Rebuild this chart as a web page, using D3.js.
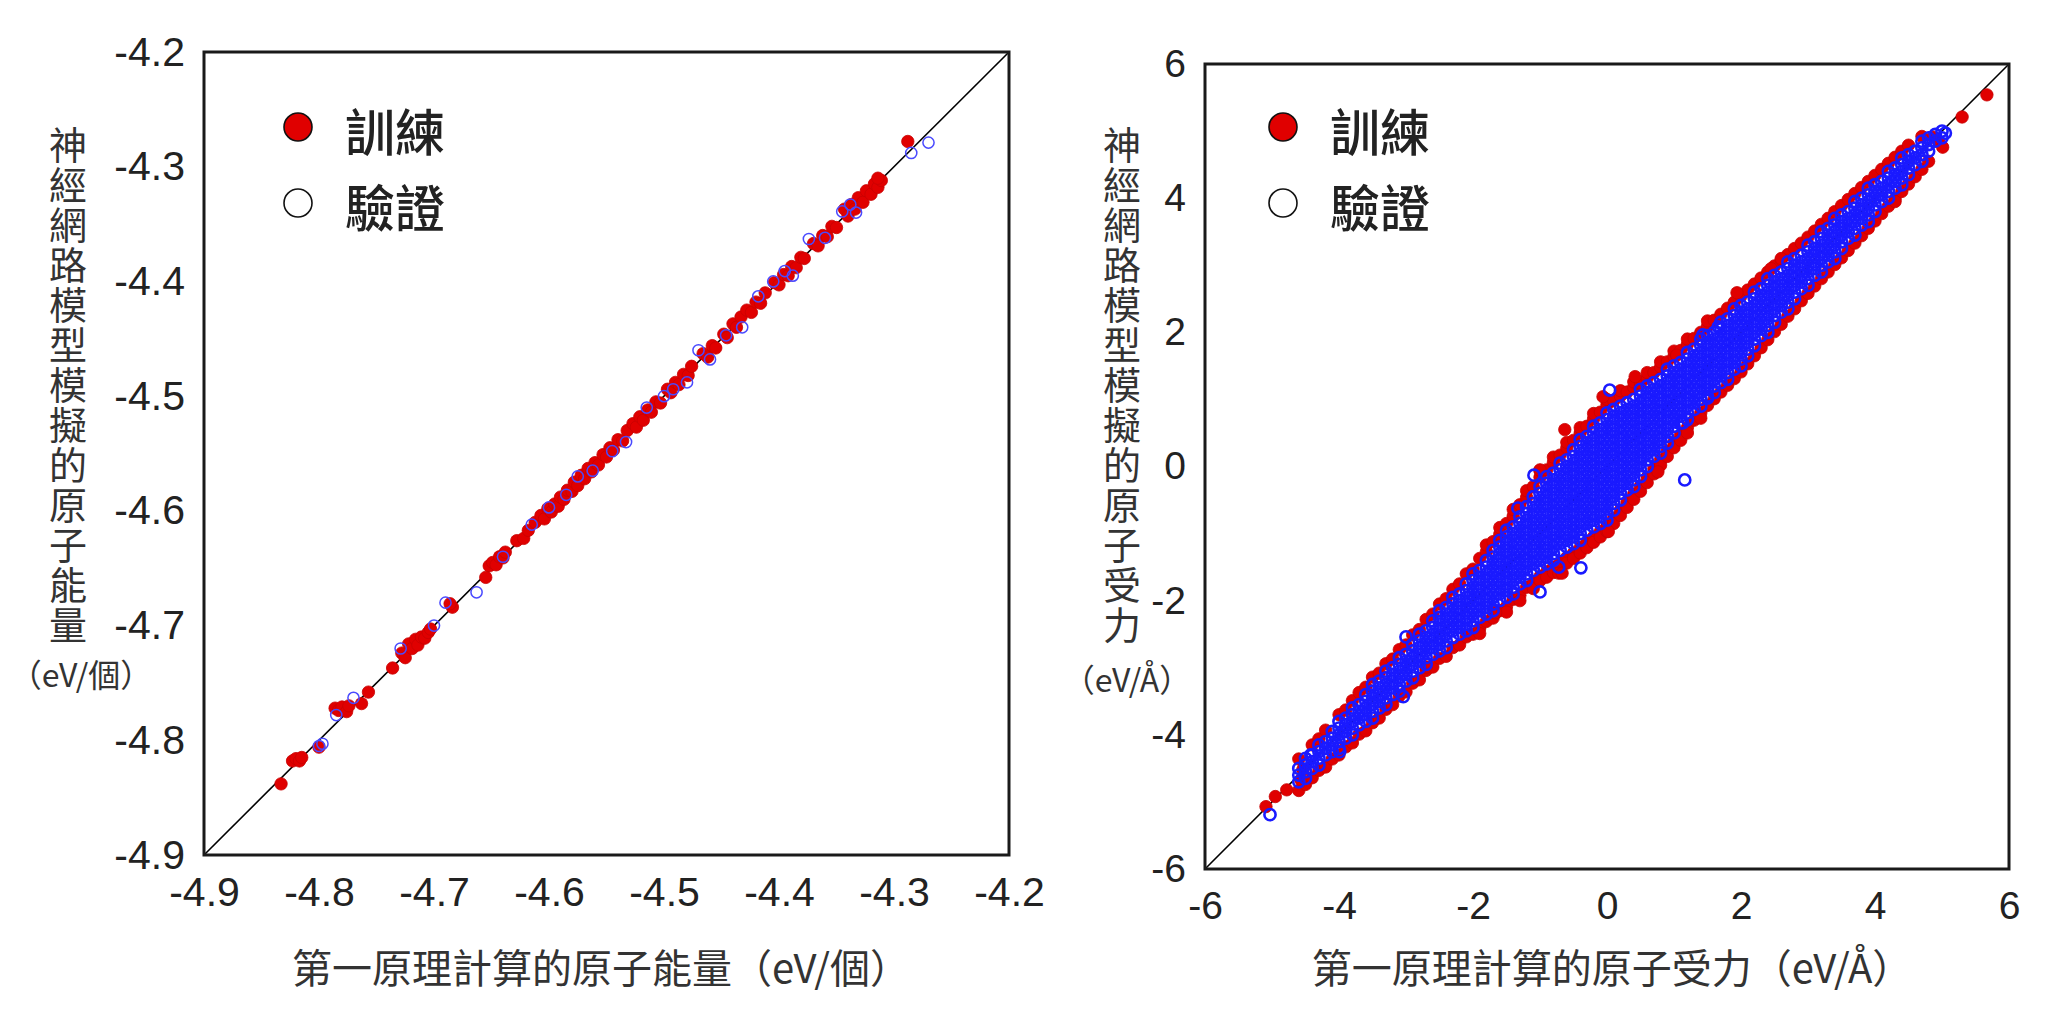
<!DOCTYPE html>
<html>
<head>
<meta charset="utf-8">
<script src="https://cdn.jsdelivr.net/npm/d3@7"></script>
<style>
	body { margin: 0; background: #fff; }
</style>
</head>
<body>
<script>
(function () {
	"use strict";

	let w = 2048;
	let h = 1020;

	// ---- left chart: atomic energy (eV/atom) ----
	const energyTicks = [-4.9, -4.8, -4.7, -4.6, -4.5, -4.4, -4.3, -4.2];
	const energyTickLabels = ['-4.9', '-4.8', '-4.7', '-4.6', '-4.5', '-4.4', '-4.3', '-4.2'];

	// [DFT, NN] pairs
	const energyTrain = [
		[-4.833,-4.838],[-4.823,-4.818],[-4.820,-4.816],[-4.817,-4.818],[-4.815,-4.815],
		[-4.800,-4.806],[-4.786,-4.772],[-4.783,-4.774],[-4.780,-4.771],[-4.776,-4.775],[-4.774,-4.770],
		[-4.763,-4.768],[-4.757,-4.758],[-4.736,-4.737],
		[-4.728,-4.724],[-4.725,-4.728],[-4.722,-4.716],[-4.719,-4.720],[-4.716,-4.712],[-4.714,-4.717],
		[-4.711,-4.710],[-4.708,-4.711],[-4.705,-4.706],[-4.703,-4.703],
		[-4.684,-4.684],[-4.686,-4.681],
		[-4.655,-4.658],[-4.652,-4.648],[-4.649,-4.645],[-4.646,-4.647],[-4.643,-4.640],[-4.640,-4.641],[-4.638,-4.636],
		[-4.628,-4.626],[-4.622,-4.624],[-4.618,-4.617],[-4.612,-4.610],
		[-4.607,-4.604],[-4.604,-4.607],[-4.601,-4.598],[-4.598,-4.601],[-4.595,-4.594],[-4.592,-4.596],
		[-4.590,-4.588],[-4.587,-4.590],[-4.584,-4.582],[-4.580,-4.583],[-4.578,-4.575],[-4.575,-4.578],
		[-4.572,-4.569],[-4.569,-4.572],[-4.566,-4.563],[-4.563,-4.566],[-4.560,-4.558],[-4.557,-4.560],
		[-4.553,-4.551],[-4.550,-4.553],[-4.547,-4.545],[-4.544,-4.547],[-4.540,-4.538],[-4.536,-4.539],[-4.532,-4.530],
		[-4.527,-4.524],[-4.524,-4.527],[-4.521,-4.518],[-4.518,-4.521],[-4.514,-4.512],[-4.511,-4.514],[-4.507,-4.505],[-4.503,-4.506],
		[-4.497,-4.494],[-4.494,-4.497],[-4.490,-4.488],[-4.487,-4.490],[-4.483,-4.481],[-4.479,-4.482],[-4.476,-4.474],
		[-4.466,-4.463],[-4.462,-4.466],[-4.458,-4.456],[-4.455,-4.458],[-4.448,-4.446],[-4.445,-4.449],
		[-4.440,-4.437],[-4.437,-4.440],[-4.433,-4.431],
		[-4.428,-4.425],[-4.424,-4.427],[-4.420,-4.418],[-4.416,-4.419],[-4.412,-4.410],
		[-4.404,-4.401],[-4.400,-4.403],[-4.396,-4.394],[-4.392,-4.395],[-4.389,-4.387],[-4.385,-4.388],[-4.381,-4.379],[-4.378,-4.380],
		[-4.370,-4.367],[-4.366,-4.369],[-4.362,-4.360],[-4.358,-4.361],[-4.354,-4.352],[-4.350,-4.353],
		[-4.343,-4.337],[-4.340,-4.343],[-4.337,-4.333],[-4.334,-4.337],[-4.331,-4.327],[-4.327,-4.331],
		[-4.324,-4.321],[-4.320,-4.324],[-4.317,-4.315],[-4.314,-4.318],[-4.311,-4.312],[-4.314,-4.310],
		[-4.288,-4.278]
	];
	const energyValid = [
		[-4.800,-4.805],[-4.797,-4.803],[-4.785,-4.778],[-4.770,-4.763],[-4.729,-4.720],[-4.700,-4.700],
		[-4.690,-4.680],[-4.663,-4.671],[-4.640,-4.640],[-4.615,-4.612],[-4.600,-4.597],[-4.585,-4.586],
		[-4.575,-4.570],[-4.562,-4.565],[-4.545,-4.548],[-4.533,-4.540],[-4.515,-4.510],[-4.500,-4.500],
		[-4.492,-4.494],[-4.480,-4.488],[-4.470,-4.460],[-4.460,-4.468],[-4.446,-4.447],[-4.432,-4.440],
		[-4.418,-4.413],[-4.405,-4.400],[-4.395,-4.391],[-4.388,-4.395],[-4.374,-4.363],[-4.360,-4.362],
		[-4.345,-4.339],[-4.338,-4.333],[-4.333,-4.340],[-4.285,-4.288],[-4.270,-4.279]
	];

	// ---- right chart: atomic force (eV/Å) ----
	const forceTicks = [-6, -4, -2, 0, 2, 4, 6];
	const forceTickLabels = ['-6', '-4', '-2', '0', '2', '4', '6'];

	// training points: columns [DFT, [NN values]] along the edges of the cloud
	const forceTrainCols = [
		[-4.6,[-4.83,-4.36]],[-4.5,[-4.74]],[-4.4,[-4.64,-4.15]],[-4.3,[-4.53,-4.06]],[-4.2,[-4.48,-3.93]],
		[-4.1,[-4.36]],[-4.0,[-4.30,-3.70]],[-3.9,[-4.18,-3.63]],[-3.8,[-4.12,-3.49]],[-3.7,[-3.99,-3.37]],
		[-3.6,[-3.94,-3.29]],[-3.5,[-3.82,-3.14]],[-3.4,[-3.75,-3.08]],[-3.3,[-3.62,-2.94]],[-3.2,[-3.55,-2.87]],
		[-3.1,[-3.42,-2.73]],[-3.0,[-3.36,-2.66]],[-2.9,[-3.23,-2.51]],[-2.8,[-3.18,-2.43]],[-2.7,[-3.04,-2.99,-2.28]],
		[-2.6,[-2.99,-2.20]],[-2.5,[-2.86,-2.05]],[-2.4,[-2.83,-1.97]],[-2.3,[-2.70,-1.83]],[-2.2,[-2.66,-1.75]],
		[-2.1,[-2.54,-1.60]],[-2.0,[-2.50,-1.53]],[-1.9,[-2.41,-2.49,-1.37]],[-1.8,[-2.31,-1.27,-1.17]],
		[-1.7,[-2.26,-2.18,-1.12]],[-1.6,[-2.15,-1.01,-0.91]],[-1.5,[-2.09,-2.17,-0.85]],[-1.4,[-1.98,-0.74,-0.64]],
		[-1.3,[-1.92,-2.00,-0.57]],[-1.2,[-1.80,-0.46,-0.36]],[-1.1,[-1.74,-1.82,-0.30]],[-1.0,[-1.64,-1.70,-0.16,-0.06]],
		[-0.9,[-1.57,-1.65,-0.05]],[-0.8,[-1.50,-1.58,0.06,0.14]],[-0.7,[-1.43,-1.51,0.17]],[-0.6,[-1.36,-1.44,0.28,0.36]],
		[-0.5,[-1.29,-1.37,0.39]],[-0.4,[-1.21,-1.29,0.50,0.58]],[-0.3,[-1.13,-1.21,0.60]],[-0.2,[-1.05,-1.13,0.71,0.79]],
		[-0.1,[-0.97,-1.05,0.81]],[0.0,[-0.89,-0.97,0.92,1.00]],[0.1,[-0.77,-0.85,0.98]],[0.2,[-0.65,-0.73,1.05,1.13]],
		[0.3,[-0.53,-0.61,1.11]],[0.4,[-0.41,-0.49,1.18,1.26]],[0.5,[-0.29,-0.37,1.24]],[0.6,[-0.16,-0.24,1.32,1.40]],
		[0.7,[-0.03,-0.11,1.40]],[0.8,[0.10,0.02,1.48,1.56]],[0.9,[0.23,0.15,1.56]],[1.0,[0.36,0.28,1.64,1.72]],
		[1.1,[0.47,0.39,1.73]],[1.2,[0.58,0.50,1.82,1.90]],[1.3,[0.69,1.91]],[1.4,[0.80,0.72,2.00]],
		[1.5,[0.91,2.09,2.17]],[1.6,[1.01,2.18]],[1.7,[1.11,2.27]],[1.8,[1.21,2.36]],[1.9,[1.31,2.45]],
		[2.0,[1.41,2.54]],[2.1,[1.53,2.63]],[2.2,[1.65,2.72]],[2.3,[1.77,2.81]],[2.4,[1.89,2.90]],
		[2.5,[2.01,2.99]],[2.6,[2.12,3.08]],[2.7,[2.24,3.16]],[2.8,[2.35,3.25]],[2.9,[2.47,3.33]],
		[3.0,[2.58,3.42]],[3.1,[2.69,3.51]],[3.2,[2.80,3.61]],[3.3,[2.90,3.70]],[3.4,[3.01,3.80]],
		[3.5,[3.11,3.89]],[3.6,[3.22,3.98]],[3.7,[3.33,4.07]],[3.8,[3.44,4.16]],[3.9,[3.55,4.25]],
		[4.0,[3.66,4.34]],[4.1,[3.77,4.43]],[4.2,[3.88,4.52]],[4.3,[3.99,4.61]],[4.4,[4.10,4.70]],
		[4.5,[4.21,4.79]],[4.6,[4.32]],[4.7,[4.43,4.92]],[4.8,[4.55]]
	];
	const forceTrainOut = [
		[-5.09,-5.07],[-4.95,-4.92],[-4.78,-4.82],[-4.57,-4.67],[-4.54,-4.52],[-2.70,-2.99],[-1.66,-2.18],
		[-0.72,-1.59],[-0.63,0.55],[-0.06,1.04],[0.42,1.34],[1.04,1.66],[1.94,2.59],[-1.00,-0.05],[0.76,-0.08],
		[0.02,-0.97],[-0.67,-1.59],[2.45,2.95],[2.60,3.10],[4.30,3.95],[4.87,4.91],[4.95,4.85],[5.01,4.76],
		[5.30,5.21],[5.67,5.54]
	];

	// validation points: columns [DFT, [NN values]] covering the dense core
	const forceValidCols = [
		[-4.6,[-4.7,-4.6,-4.5]],
		[-4.5,[-4.65,-4.55,-4.45,-4.35]],
		[-4.4,[-4.5,-4.4,-4.3]],
		[-4.3,[-4.45,-4.35,-4.25,-4.15]],
		[-4.2,[-4.3,-4.2,-4.1]],
		[-4.1,[-4.25,-4.15,-4.05,-3.95]],
		[-4.0,[-4.2,-4.1,-4.0,-3.9,-3.8]],
		[-3.9,[-4.05,-3.95,-3.85,-3.75]],
		[-3.8,[-4.0,-3.9,-3.8,-3.7,-3.6]],
		[-3.7,[-3.85,-3.75,-3.65,-3.55]],
		[-3.6,[-3.8,-3.7,-3.6,-3.5,-3.4]],
		[-3.5,[-3.75,-3.65,-3.55,-3.45,-3.35,-3.25]],
		[-3.4,[-3.6,-3.5,-3.4,-3.3,-3.2]],
		[-3.3,[-3.55,-3.45,-3.35,-3.25,-3.15,-3.05]],
		[-3.2,[-3.4,-3.3,-3.2,-3.1,-3.0]],
		[-3.1,[-3.35,-3.25,-3.15,-3.05,-2.95,-2.85]],
		[-3.0,[-3.2,-3.1,-3.0,-2.9,-2.8]],
		[-2.9,[-3.15,-3.05,-2.95,-2.85,-2.75,-2.65]],
		[-2.8,[-3.0,-2.9,-2.8,-2.7,-2.6,-2.5]],
		[-2.7,[-2.95,-2.85,-2.75,-2.65,-2.55,-2.45]],
		[-2.6,[-2.8,-2.7,-2.6,-2.5,-2.4,-2.3]],
		[-2.5,[-2.75,-2.65,-2.55,-2.45,-2.35,-2.25,-2.15]],
		[-2.4,[-2.7,-2.6,-2.5,-2.4,-2.3,-2.2,-2.1]],
		[-2.3,[-2.55,-2.45,-2.35,-2.25,-2.15,-2.05,-1.95]],
		[-2.2,[-2.5,-2.4,-2.3,-2.2,-2.1,-2.0,-1.9]],
		[-2.1,[-2.45,-2.35,-2.25,-2.15,-2.05,-1.95,-1.85,-1.75]],
		[-2.0,[-2.4,-2.3,-2.2,-2.1,-2.0,-1.9,-1.8,-1.7,-1.6]],
		[-1.9,[-2.25,-2.15,-2.05,-1.95,-1.85,-1.75,-1.65,-1.55]],
		[-1.8,[-2.2,-2.1,-2.0,-1.9,-1.8,-1.7,-1.6,-1.5,-1.4]],
		[-1.7,[-2.15,-2.05,-1.95,-1.85,-1.75,-1.65,-1.55,-1.45,-1.35,-1.25]],
		[-1.6,[-2.0,-1.9,-1.8,-1.7,-1.6,-1.5,-1.4,-1.3,-1.2,-1.1]],
		[-1.5,[-1.95,-1.85,-1.75,-1.65,-1.55,-1.45,-1.35,-1.25,-1.15,-1.05,-0.95]],
		[-1.4,[-1.9,-1.8,-1.7,-1.6,-1.5,-1.4,-1.3,-1.2,-1.1,-1.0,-0.9]],
		[-1.3,[-1.75,-1.65,-1.55,-1.45,-1.35,-1.25,-1.15,-1.05,-0.95,-0.85,-0.75]],
		[-1.2,[-1.7,-1.6,-1.5,-1.4,-1.3,-1.2,-1.1,-1.0,-0.9,-0.8,-0.7,-0.6]],
		[-1.1,[-1.55,-1.45,-1.35,-1.25,-1.15,-1.05,-0.95,-0.85,-0.75,-0.65,-0.55,-0.45]],
		[-1.0,[-1.5,-1.4,-1.3,-1.2,-1.1,-1.0,-0.9,-0.8,-0.7,-0.6,-0.5,-0.4,-0.3]],
		[-0.9,[-1.45,-1.35,-1.25,-1.15,-1.05,-0.95,-0.85,-0.75,-0.65,-0.55,-0.45,-0.35,-0.25,-0.15]],
		[-0.8,[-1.4,-1.3,-1.2,-1.1,-1.0,-0.9,-0.8,-0.7,-0.6,-0.5,-0.4,-0.3,-0.2,-0.1]],
		[-0.7,[-1.25,-1.15,-1.05,-0.95,-0.85,-0.75,-0.65,-0.55,-0.45,-0.35,-0.25,-0.15,-0.05,0.05]],
		[-0.6,[-1.2,-1.1,-1.0,-0.9,-0.8,-0.7,-0.6,-0.5,-0.4,-0.3,-0.2,-0.1,0.0,0.1]],
		[-0.5,[-1.15,-1.05,-0.95,-0.85,-0.75,-0.65,-0.55,-0.45,-0.35,-0.25,-0.15,-0.05,0.05,0.15,0.25]],
		[-0.4,[-1.1,-1.0,-0.9,-0.8,-0.7,-0.6,-0.5,-0.4,-0.3,-0.2,-0.1,0.0,0.1,0.2,0.3,0.4]],
		[-0.3,[-0.95,-0.85,-0.75,-0.65,-0.55,-0.45,-0.35,-0.25,-0.15,-0.05,0.05,0.15,0.25,0.35,0.45]],
		[-0.2,[-0.9,-0.8,-0.7,-0.6,-0.5,-0.4,-0.3,-0.2,-0.1,0.0,0.1,0.2,0.3,0.4,0.5,0.6]],
		[-0.1,[-0.85,-0.75,-0.65,-0.55,-0.45,-0.35,-0.25,-0.15,-0.05,0.05,0.15,0.25,0.35,0.45,0.55,0.65]],
		[0.0,[-0.8,-0.7,-0.6,-0.5,-0.4,-0.3,-0.2,-0.1,0.0,0.1,0.2,0.3,0.4,0.5,0.6,0.7,0.8]],
		[0.1,[-0.65,-0.55,-0.45,-0.35,-0.25,-0.15,-0.05,0.05,0.15,0.25,0.35,0.45,0.55,0.65,0.75,0.85]],
		[0.2,[-0.5,-0.4,-0.3,-0.2,-0.1,0.0,0.1,0.2,0.3,0.4,0.5,0.6,0.7,0.8,0.9]],
		[0.3,[-0.35,-0.25,-0.15,-0.05,0.05,0.15,0.25,0.35,0.45,0.55,0.65,0.75,0.85,0.95]],
		[0.4,[-0.3,-0.2,-0.1,0.0,0.1,0.2,0.3,0.4,0.5,0.6,0.7,0.8,0.9,1.0]],
		[0.5,[-0.15,-0.05,0.05,0.15,0.25,0.35,0.45,0.55,0.65,0.75,0.85,0.95,1.05,1.15]],
		[0.6,[0.0,0.1,0.2,0.3,0.4,0.5,0.6,0.7,0.8,0.9,1.0,1.1,1.2]],
		[0.7,[0.15,0.25,0.35,0.45,0.55,0.65,0.75,0.85,0.95,1.05,1.15,1.25]],
		[0.8,[0.2,0.3,0.4,0.5,0.6,0.7,0.8,0.9,1.0,1.1,1.2,1.3]],
		[0.9,[0.35,0.45,0.55,0.65,0.75,0.85,0.95,1.05,1.15,1.25,1.35,1.45]],
		[1.0,[0.5,0.6,0.7,0.8,0.9,1.0,1.1,1.2,1.3,1.4,1.5]],
		[1.1,[0.65,0.75,0.85,0.95,1.05,1.15,1.25,1.35,1.45,1.55]],
		[1.2,[0.7,0.8,0.9,1.0,1.1,1.2,1.3,1.4,1.5,1.6,1.7]],
		[1.3,[0.85,0.95,1.05,1.15,1.25,1.35,1.45,1.55,1.65,1.75]],
		[1.4,[0.9,1.0,1.1,1.2,1.3,1.4,1.5,1.6,1.7,1.8,1.9]],
		[1.5,[1.05,1.15,1.25,1.35,1.45,1.55,1.65,1.75,1.85,1.95]],
		[1.6,[1.1,1.2,1.3,1.4,1.5,1.6,1.7,1.8,1.9,2.0]],
		[1.7,[1.25,1.35,1.45,1.55,1.65,1.75,1.85,1.95,2.05,2.15]],
		[1.8,[1.3,1.4,1.5,1.6,1.7,1.8,1.9,2.0,2.1,2.2]],
		[1.9,[1.45,1.55,1.65,1.75,1.85,1.95,2.05,2.15,2.25,2.35]],
		[2.0,[1.5,1.6,1.7,1.8,1.9,2.0,2.1,2.2,2.3,2.4]],
		[2.1,[1.65,1.75,1.85,1.95,2.05,2.15,2.25,2.35,2.45]],
		[2.2,[1.8,1.9,2.0,2.1,2.2,2.3,2.4,2.5,2.6]],
		[2.3,[1.95,2.05,2.15,2.25,2.35,2.45,2.55,2.65]],
		[2.4,[2.0,2.1,2.2,2.3,2.4,2.5,2.6,2.7,2.8]],
		[2.5,[2.15,2.25,2.35,2.45,2.55,2.65,2.75,2.85]],
		[2.6,[2.3,2.4,2.5,2.6,2.7,2.8,2.9]],
		[2.7,[2.35,2.45,2.55,2.65,2.75,2.85,2.95,3.05]],
		[2.8,[2.5,2.6,2.7,2.8,2.9,3.0,3.1]],
		[2.9,[2.65,2.75,2.85,2.95,3.05,3.15]],
		[3.0,[2.7,2.8,2.9,3.0,3.1,3.2,3.3]],
		[3.1,[2.85,2.95,3.05,3.15,3.25,3.35]],
		[3.2,[2.9,3.0,3.1,3.2,3.3,3.4,3.5]],
		[3.3,[3.05,3.15,3.25,3.35,3.45,3.55]],
		[3.4,[3.1,3.2,3.3,3.4,3.5,3.6,3.7]],
		[3.5,[3.25,3.35,3.45,3.55,3.65,3.75]],
		[3.6,[3.4,3.5,3.6,3.7,3.8]],
		[3.7,[3.45,3.55,3.65,3.75,3.85,3.95]],
		[3.8,[3.6,3.7,3.8,3.9,4.0]],
		[3.9,[3.65,3.75,3.85,3.95,4.05,4.15]],
		[4.0,[3.8,3.9,4.0,4.1,4.2]],
		[4.1,[3.95,4.05,4.15,4.25]],
		[4.2,[4.0,4.1,4.2,4.3,4.4]],
		[4.3,[4.15,4.25,4.35,4.45]],
		[4.4,[4.2,4.3,4.4,4.5,4.6]],
		[4.5,[4.35,4.45,4.55,4.65]],
		[4.6,[4.5,4.6,4.7]],
		[4.7,[4.55,4.65,4.75,4.85]],
		[4.8,[4.7,4.8,4.9]],
		[4.9,[4.85,4.95]],
		[5.0,[4.9,5.0]]
	];
	const forceValidOut = [
		[-5.03,-5.19],[-4.42,-4.30],[-3.99,-4.25],[-3.04,-3.43],[-3.00,-2.54],[-1.00,-1.87],[-0.72,-1.50],
		[-0.39,-1.51],[-1.09,-0.13],[-1.33,-0.62],[0.04,1.14],[1.43,1.96],[1.66,2.08],[1.16,-0.20],
		[1.50,1.02],[1.13,0.65],[5.05,4.97]
	];

	const legendLabels = ['訓練', '驗證'];

	const panels = [
		{
			box: [204, 52, 1009, 855], ticks: energyTicks, labels: energyTickLabels, tickSize: 41,
			train: energyTrain, valid: energyValid, ring: 1.5, ringColor: '#4a4aff',
			yTitle: '神經網路模型模擬的原子能量', yTitleX: 68, yUnit: '（eV/個）', yUnitX: 81, yUnitY: 673,
			xTitle: '第一原理計算的原子能量（eV/個）', xTitleX: 601,
			legendX: 298
		},
		{
			box: [1205, 64, 2009, 869], ticks: forceTicks, labels: forceTickLabels, tickSize: 39,
			train: forceTrainCols.flatMap(c => c[1].map(v => [c[0], v])).concat(forceTrainOut),
			valid: forceValidCols.flatMap(c => c[1].map(v => [c[0], v])).concat(forceValidOut),
			ring: 2.6, ringColor: '#1a1aff',
			yTitle: '神經網路模型模擬的原子受力', yTitleX: 1122, yUnit: '（eV/Å）', yUnitX: 1127, yUnitY: 678,
			xTitle: '第一原理計算的原子受力（eV/Å）', xTitleX: 1612,
			legendX: 1283
		}
	];

	const cjk = '"Noto Sans CJK TC", "Noto Sans CJK SC", sans-serif';
	const latin = '"Liberation Sans", Arial, sans-serif';

	let svg = d3.select('body').append('svg')
		.attr('width', w).attr('height', h)
		.style('background', '#fff');

	panels.forEach(function (p) {
		let [x0, y0, x1, y1] = p.box;
		let lo = p.ticks[0], hi = p.ticks[p.ticks.length - 1];

		let x = d3.scaleLinear().domain([lo, hi]).range([x0, x1]);
		let y = d3.scaleLinear().domain([lo, hi]).range([y1, y0]);

		let g = svg.append('g');

		// y = x reference line
		g.append('line')
			.attr('x1', x(lo)).attr('y1', y(lo))
			.attr('x2', x(hi)).attr('y2', y(hi))
			.attr('stroke', '#000').attr('stroke-width', 1.6);

		g.append('g').selectAll('circle')
			.data(p.train)
			.enter()
			.append('circle')
			.attr('cx', d => x(d[0]))
			.attr('cy', d => y(d[1]))
			.attr('r', 6.2)
			.attr('fill', '#e00000')
			.attr('stroke', '#c80000')
			.attr('stroke-width', 0.8);

		g.append('g').selectAll('circle')
			.data(p.valid)
			.enter()
			.append('circle')
			.attr('cx', d => x(d[0]))
			.attr('cy', d => y(d[1]))
			.attr('r', 5.6)
			.attr('fill', 'none')
			.attr('stroke', p.ringColor)
			.attr('stroke-width', p.ring);

		// axes: labels only, no tick marks
		let xAxis = d3.axisBottom(x)
			.tickValues(p.ticks)
			.tickFormat((d, i) => p.labels[i])
			.tickSize(0)
			.tickPadding(22);
		let yAxis = d3.axisLeft(y)
			.tickValues(p.ticks)
			.tickFormat((d, i) => p.labels[i])
			.tickSize(0)
			.tickPadding(19);

		[[xAxis, `translate(0,${y1})`], [yAxis, `translate(${x0},0)`]].forEach(function (a) {
			let ag = g.append('g')
				.attr('transform', a[1])
				.call(a[0]);
			ag.select('.domain').remove();
			ag.attr('font-family', latin)
				.attr('font-size', p.tickSize)
				.attr('color', '#222');
		});

		// frame
		g.append('rect')
			.attr('x', x0).attr('y', y0)
			.attr('width', x1 - x0).attr('height', y1 - y0)
			.attr('fill', 'none')
			.attr('stroke', '#1a1a1a')
			.attr('stroke-width', 3);

		// axis titles
		g.append('text')
			.attr('x', p.yTitleX).attr('y', 126)
			.style('writing-mode', 'vertical-rl')
			.style('letter-spacing', '2px')
			.attr('font-family', cjk)
			.attr('font-size', 38)
			.attr('fill', '#333')
			.text(p.yTitle);

		g.append('text')
			.attr('x', p.yUnitX).attr('y', p.yUnitY)
			.attr('text-anchor', 'middle')
			.attr('dominant-baseline', 'central')
			.attr('font-family', cjk)
			.attr('font-size', 32)
			.attr('fill', '#333')
			.text(p.yUnit);

		g.append('text')
			.attr('x', p.xTitleX).attr('y', 966)
			.attr('text-anchor', 'middle')
			.attr('dominant-baseline', 'central')
			.attr('font-family', cjk)
			.attr('font-size', 40)
			.attr('fill', '#333')
			.text(p.xTitle);

		// legend
		let lg = g.append('g');
		lg.append('circle')
			.attr('cx', p.legendX).attr('cy', 127).attr('r', 14)
			.attr('fill', '#e00000').attr('stroke', '#111').attr('stroke-width', 1.6);
		lg.append('circle')
			.attr('cx', p.legendX).attr('cy', 203).attr('r', 14)
			.attr('fill', '#fff').attr('stroke', '#111').attr('stroke-width', 1.6);
		lg.selectAll('text')
			.data(legendLabels)
			.enter()
			.append('text')
			.attr('x', p.legendX + 47)
			.attr('y', (d, i) => 129 + i * 76)
			.attr('dominant-baseline', 'central')
			.attr('font-family', cjk)
			.attr('font-size', 50)
			.attr('font-weight', 500)
			.attr('fill', '#222')
			.text(d => d);
	});

})();
</script>
</body>
</html>
